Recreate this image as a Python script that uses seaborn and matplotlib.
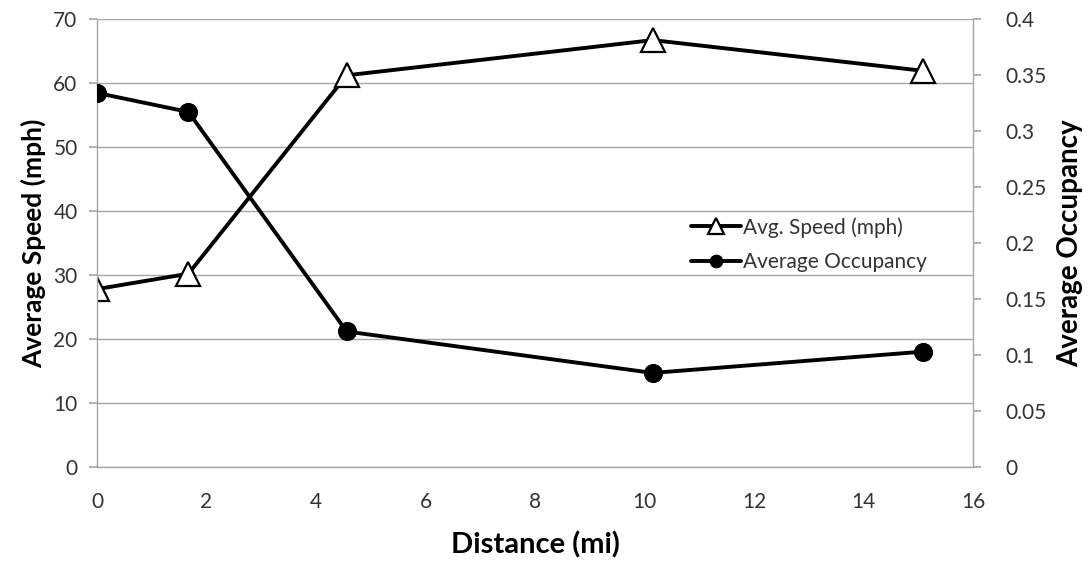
import matplotlib
matplotlib.use("Agg")
import matplotlib.pyplot as plt
import seaborn as sns
import pandas as pd

distance_mi = [0.0, 1.67, 4.56, 10.15, 15.09]
avg_speed_mph = [27.8, 30.2, 61.2, 66.7, 61.9]
avg_occupancy = [0.334, 0.317, 0.121, 0.084, 0.103]

speed_ticks = [0, 10, 20, 30, 40, 50, 60, 70]
occ_ticks = [0, 0.05, 0.1, 0.15, 0.2, 0.25, 0.3, 0.35, 0.4]
occ_tick_labels = ["0", "0.05", "0.1", "0.15", "0.2", "0.25", "0.3", "0.35", "0.4"]
x_ticks = [0, 2, 4, 6, 8, 10, 12, 14, 16]

df = pd.DataFrame({"Distance": distance_mi, "Speed": avg_speed_mph, "Occupancy": avg_occupancy})

sns.set_theme(style="white")
plt.rcParams["font.family"] = ["Lato", "DejaVu Sans"]

fig = plt.figure(figsize=(10.89, 5.61), dpi=100)
ax = fig.add_axes([97 / 1089, 1 - 467 / 561, (973 - 97) / 1089, (467 - 19) / 561])
ax2 = ax.twinx()

grid_c = "#a6a6a6"
text_c = "#333333"

sns.lineplot(data=df, x="Distance", y="Speed", ax=ax, color="black", linewidth=2.8,
             marker="^", markersize=17, markerfacecolor="white", markeredgecolor="black",
             markeredgewidth=1.6, label="Avg. Speed (mph)", legend=False)
sns.lineplot(data=df, x="Distance", y="Occupancy", ax=ax2, color="black", linewidth=2.8,
             marker="o", markersize=13, markerfacecolor="black", markeredgecolor="black",
             label="Average Occupancy", legend=False)

ax.set_xlim(0, 16)
ax.set_ylim(0, 70)
ax2.set_ylim(0, 0.4)
ax.set_xticks(x_ticks)
ax.set_yticks(speed_ticks)
ax2.set_yticks(occ_ticks)
ax2.set_yticklabels(occ_tick_labels)

ax.yaxis.grid(True, color=grid_c, linewidth=1.0)
ax.xaxis.grid(False)
ax2.grid(False)
ax.set_axisbelow(True)

for a in (ax, ax2):
    a.spines["top"].set_visible(False)
    for s in ("left", "right", "bottom"):
        a.spines[s].set_color(grid_c)
        a.spines[s].set_linewidth(1.0)
ax.spines["right"].set_visible(False)
ax2.spines["left"].set_visible(False)
ax2.spines["bottom"].set_visible(False)

ax.tick_params(axis="x", which="both", direction="inout", length=10, color=grid_c,
               labelsize=15, labelcolor=text_c, pad=13)
ax.tick_params(axis="y", direction="out", length=6, color=grid_c, labelsize=15,
               labelcolor=text_c, pad=8, left=True)
ax2.tick_params(axis="y", direction="out", length=6, color=grid_c, labelsize=15,
                labelcolor=text_c, pad=17, right=True)

ax.set_xlabel("Distance (mi)", fontsize=21, fontweight="bold", color="black", labelpad=14)
ax.set_ylabel("Average Speed (mph)", fontsize=19, fontweight="bold", color="black", labelpad=5)
ax2.set_ylabel("Average Occupancy", fontsize=20, fontweight="bold", color="black", labelpad=8)

h1, l1 = ax.get_legend_handles_labels()
h2, l2 = ax2.get_legend_handles_labels()
leg = ax2.legend(h1 + h2, l1 + l2, loc="upper left", bbox_to_anchor=(0.657, 0.60),
                 frameon=False, fontsize=15, handlelength=2.4, handletextpad=0.1,
                 labelspacing=0.7, markerscale=0.7)
for t in leg.get_texts():
    t.set_color(text_c)

fig.savefig("out.png", dpi=100)
